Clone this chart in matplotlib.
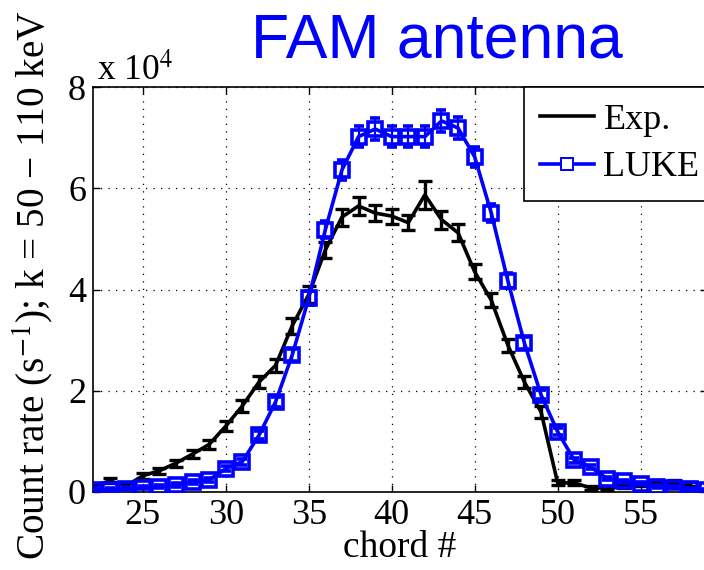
import matplotlib
matplotlib.use("Agg")
import matplotlib.pyplot as plt
from matplotlib.lines import Line2D
from matplotlib.ticker import FuncFormatter

# Chord numbers and count rates (counts/s)
chord_exp = list(range(22, 59))
rate_exp = [1000, 2200, 1200, 3200, 4200, 5700, 7500, 9400, 13000, 17000,
            21700, 25000, 32800, 39000, 47800, 54300, 56500, 55100, 54500, 53200,
            58700, 53800, 51200, 43500, 37900, 29000, 21700, 15800, 1800, 1800,
            800, 800, 1200, 1500, 2000, 2000, 1500]
err_exp = [500, 500, 500, 600, 600, 700, 800, 900, 1000, 1100,
           1200, 1300, 1500, 1600, 1600, 1700, 1700, 1600, 1500, 1500,
           2700, 1800, 1700, 1500, 1400, 1300, 1200, 1100, 500, 500,
           400, 400, 400, 400, 400, 400, 400]

chord_luke = list(range(22, 60))
rate_luke = [400, 400, 600, 800, 1000, 1400, 2000, 2400, 4600, 6000,
             11200, 17800, 27000, 38300, 51800, 63600, 70200, 71700, 70200, 70200,
             70200, 73300, 71900, 66200, 55100, 41700, 29400, 19200, 11900, 6300,
             4900, 2600, 2100, 1600, 1000, 800, 500, 300]
err_luke = [300, 300, 300, 300, 300, 400, 400, 400, 500, 600,
            800, 1000, 1200, 1400, 1700, 1900, 2100, 2100, 2100, 2100,
            2100, 2100, 2100, 2000, 1800, 1500, 1200, 900, 700, 500,
            400, 300, 300, 300, 300, 300, 300, 300]

x_ticks = [25, 30, 35, 40, 45, 50, 55]
y_ticks = [0, 20000, 40000, 60000, 80000]

plt.rcParams["font.family"] = ["Liberation Serif", "DejaVu Serif"]
plt.rcParams["mathtext.fontset"] = "stix"

FS = 26
W, H = 704, 570
fig = plt.figure(figsize=(W / 100, H / 100), dpi=100)
ax = fig.add_axes([93 / W, (H - 492) / H, 614 / W, 405 / H])

ax.errorbar(chord_exp, rate_exp, yerr=err_exp, color="black", lw=2.6,
            elinewidth=2.4, capsize=5, capthick=2.4, zorder=3)
ax.errorbar(chord_luke, rate_luke, yerr=err_luke, color="#0000ff", lw=2.6,
            marker="s", ms=9.5, mfc="none", mec="#0000ff", mew=2.6,
            elinewidth=1.6, capsize=3.5, capthick=1.6, zorder=4)

ax.set_xlim(22, 59)
ax.set_ylim(0, 80000)
ax.set_xticks(x_ticks)
ax.set_yticks(y_ticks)
ax.yaxis.set_major_formatter(FuncFormatter(lambda v, p: f"{v / 1e4:g}"))
ax.tick_params(direction="in", length=5, width=1, top=True, right=True,
               labelsize=FS, pad=5)
for s in ax.spines.values():
    s.set_linewidth(1.2)
ax.grid(True, color="black", linestyle=(0, (1, 5)), linewidth=0.9)
ax.set_axisbelow(True)

ax.set_xlabel("chord #", fontsize=27, labelpad=-1)
fig.text(33 / W, 1 - 285 / H, "Count rate (s$^{-1}$); k = 50 \u2212 110 keV",
         rotation=90, ha="center", va="center", fontsize=28.3)
fig.text(97 / W, 1 - 80 / H, "x 10$^{4}$", ha="left", va="baseline",
         fontsize=25.5)
fig.text(437 / W, 1 - 58 / H, "FAM antenna", ha="center", va="baseline",
         fontsize=45, color="#0000ff", family=["Liberation Sans", "DejaVu Sans"])

handles = [Line2D([], [], color="black", lw=2.6),
           Line2D([], [], color="#0000ff", lw=2.6, marker="s", ms=9,
                  mfc="white", mec="#0000ff", mew=1.4)]
leg = ax.legend(handles, ["Exp.", "LUKE"], loc="upper left",
                bbox_to_anchor=(524 / W, 1 - 87 / H),
                bbox_transform=fig.transFigure, fontsize=FS,
                fancybox=False, framealpha=1, edgecolor="black",
                handlelength=1.5, handletextpad=0.25, borderpad=0.45,
                labelspacing=0.4, borderaxespad=0)
leg.get_frame().set_linewidth(1.2)

fig.savefig("out.png", dpi=100)
